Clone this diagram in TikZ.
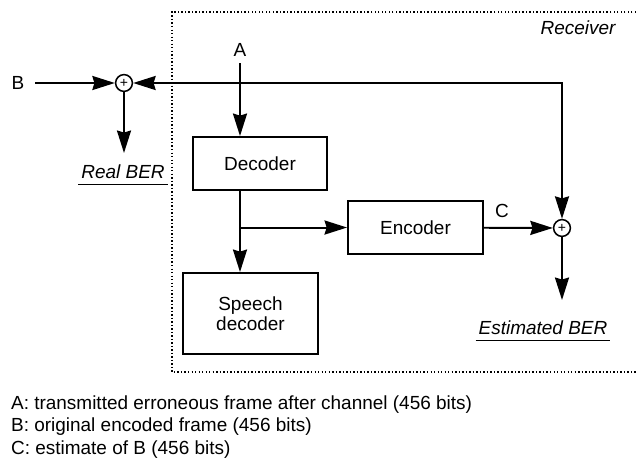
\documentclass[tikz,border=0pt]{standalone}
\usepackage{fontspec}
\setmainfont{Liberation Sans}
\usetikzlibrary{arrows.meta}
\begin{document}
\begin{tikzpicture}[line width=1.4pt,
  >={Stealth[length=16pt,width=10pt,inset=1.5pt]},
  blk/.style={draw, minimum width=3.375cm, minimum height=1.325cm, align=center, font=\fontsize{13.5}{14.2}\selectfont},
  sumnode/.style={draw, circle, line width=1.1pt, minimum size=0.42cm, inner sep=0pt, font=\fontsize{10}{10}\selectfont},
  lbl/.style={font=\fontsize{13.5}{15}\selectfont, inner sep=1.5pt},
  uline/.style={line width=0.9pt}]
  \useasboundingbox (0,0) rectangle (15.900,-11.425);
  \draw[line width=1pt, dash pattern=on 1pt off 1.5pt] (15.900,-0.300) -- (4.300,-0.300) -- (4.300,-9.300) -- (15.900,-9.300);
  \node[lbl, font=\fontsize{13.5}{15}\selectfont\itshape] (recv) at (14.450,-0.700) {Receiver};
  \node[lbl, inner xsep=7pt] (blabel) at (0.450,-2.075) {B};
  \node[sumnode] (sum1) at (3.100,-2.075) {+};
  \node[lbl, inner ysep=4pt] (alabel) at (6.000,-1.250) {A};
  \node[blk, minimum width=3.350cm] (decoder) at (6.500,-4.088) {Decoder};
  \node[blk, minimum height=2.025cm] (speech) at (6.263,-7.838) {Speech\\decoder};
  \node[blk] (encoder) at (10.388,-5.688) {Encoder};
  \node[sumnode] (sum2) at (14.050,-5.700) {+};
  \node[lbl] (clabel) at (12.550,-5.275) {C};
  \node[lbl, inner ysep=3pt, font=\fontsize{13.5}{15}\selectfont\itshape] (realber) at (3.075,-4.300) {Real BER};
  \node[lbl, inner ysep=3pt, font=\fontsize{13.5}{15}\selectfont\itshape] (estber) at (13.575,-8.200) {Estimated BER};
  \coordinate (realend) at (3.100,-3.825);
  \coordinate (estend) at (14.050,-7.500);
  \draw[->] (blabel) -- (sum1);
  \draw[<->] (sum1) -| (sum2);
  \draw[->] (sum1) -- (realend);
  \draw[->] (alabel) -- (alabel |- decoder.north);
  \draw[->] (alabel |- decoder.south) -- (alabel |- speech.north);
  \draw[->] (alabel |- encoder.west) -- (encoder.west);
  \draw[->] (encoder) -- (sum2);
  \draw[->] (sum2) -- (estend);
  \draw[uline] (realber.south west) -- (realber.south east);
  \draw[uline] (estber.south west) -- (estber.south east);
  \node[lbl, anchor=west, align=left, font=\fontsize{13.5}{15.9}\selectfont] (legend) at (0.200,-10.675) {A: transmitted erroneous frame after channel (456 bits)\\B: original encoded frame (456 bits)\\C: estimate of B (456 bits)};
\end{tikzpicture}
\end{document}
